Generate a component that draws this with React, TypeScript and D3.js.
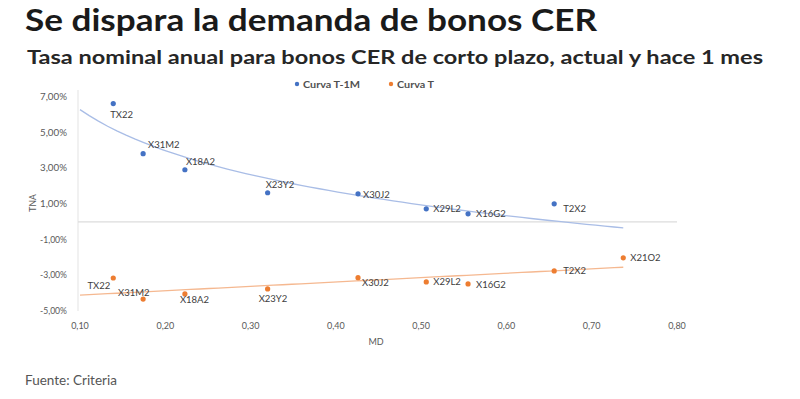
import { line, mean, scaleLinear, sum } from "d3";
import { FC } from "react";

// Bonos CER: duration modificada (MD) y TNA (%)
const bonds = ["TX22", "X31M2", "X18A2", "X23Y2", "X30J2", "X29L2", "X16G2", "T2X2"];
const mdPrev = [0.139, 0.174, 0.223, 0.32, 0.426, 0.506, 0.555, 0.656];
const tnaPrev = [6.63, 3.82, 2.92, 1.63, 1.57, 0.73, 0.45, 1.01];

const bondsNow = ["TX22", "X31M2", "X18A2", "X23Y2", "X30J2", "X29L2", "X16G2", "T2X2", "X21O2"];
const mdNow = [0.139, 0.174, 0.223, 0.32, 0.426, 0.506, 0.555, 0.656, 0.737];
const tnaNow = [-3.15, -4.33, -4.04, -3.76, -3.13, -3.37, -3.48, -2.75, -2.02];

const xTicks = [0.1, 0.2, 0.3, 0.4, 0.5, 0.6, 0.7, 0.8];
const yTicks = [7, 5, 3, 1, -1, -3, -5];
const trendRange = [0.1, 0.737];

// label placement (dx, dy, anchor)
const prevLabelPos: Record<string, [number, number, string]> = {
  TX22: [-3, 14, "start"],
  X31M2: [5, -6, "start"],
  X18A2: [1, -5, "start"],
  X23Y2: [-2, -5, "start"],
  X30J2: [5, 4, "start"],
  X29L2: [7, 3, "start"],
  X16G2: [8, 3, "start"],
  T2X2: [9, 8, "start"],
};
const nowLabelPos: Record<string, [number, number, string]> = {
  TX22: [-3, 11, "end"],
  X31M2: [-25, -3, "start"],
  X18A2: [-5, 9, "start"],
  X23Y2: [-9, 13, "start"],
  X30J2: [4, 8, "start"],
  X29L2: [7, 3, "start"],
  X16G2: [8, 4, "start"],
  T2X2: [9, 3, "start"],
  X21O2: [7, 3, "start"],
};

const BLUE = "#4472c4";
const ORANGE = "#ed7d31";
const FONT = "Lato, 'Open Sans', sans-serif";

// least squares fit of y = a + b*f(x)
const fit = (xs: number[], ys: number[], f: (v: number) => number) => {
  const fx = xs.map(f);
  const mx = mean(fx)!;
  const my = mean(ys)!;
  const b = sum(fx, (v, i) => (v - mx) * (ys[i] - my)) / sum(fx, (v) => (v - mx) ** 2);
  const a = my - b * mx;
  return (v: number) => a + b * f(v);
};

const App: FC = () => {
  const width = 800;
  const height = 399;

  const x = scaleLinear().domain([0.1, 0.8]).range([80, 677]);
  const y = scaleLinear().domain([-5, 7]).range([311, 97]);

  const logFit = fit(mdPrev, tnaPrev, Math.log);
  const linFit = fit(mdNow, tnaNow, (v) => v);

  const samples = Array.from({ length: 60 }, (_, i) => trendRange[0] + ((trendRange[1] - trendRange[0]) * i) / 59);
  const path = (fn: (v: number) => number) =>
    line<number>()
      .x((d) => x(d))
      .y((d) => y(fn(d)))(samples) || "";

  const fmtPct = (v: number) => v.toFixed(2).replace(".", ",") + "%";
  const fmtX = (v: number) => v.toFixed(2).replace(".", ",");

  return (
    <svg width={width} height={height} style={{ position: "absolute", left: 0, top: 0, background: "#fff" }}>
      <text x={25} y={31} fontFamily={FONT} fontWeight={700} fontSize={30} fill="#1a1a1a"
        textLength={572} lengthAdjust="spacingAndGlyphs">
        Se dispara la demanda de bonos CER
      </text>
      <text x={27} y={64} fontFamily={FONT} fontWeight={700} fontSize={19.5} fill="#262626"
        textLength={736} lengthAdjust="spacingAndGlyphs">
        Tasa nominal anual para bonos CER de corto plazo, actual y hace 1 mes
      </text>

      {/* legend */}
      <circle cx={297} cy={84} r={2.2} fill={BLUE} />
      <text x={303} y={87.5} fontFamily={FONT} fontSize={9.5} fontWeight={700} fill="#505050" textLength={57} lengthAdjust="spacingAndGlyphs">Curva T-1M</text>
      <circle cx={391} cy={84} r={2.2} fill={ORANGE} />
      <text x={397} y={87.5} fontFamily={FONT} fontSize={9.5} fontWeight={700} fill="#505050" textLength={37} lengthAdjust="spacingAndGlyphs">Curva T</text>

      {/* axes */}
      <line x1={x(0.1) - 2} x2={x(0.1) - 2} y1={90} y2={y(-5)} stroke="#e3e3e3" strokeWidth={1} />
      <line x1={x(0.1) - 2} x2={x(0.8)} y1={y(0)} y2={y(0)} stroke="#dcdcdc" strokeWidth={1.2} />
      {yTicks.map((t) => (
        <text key={t} x={67} y={y(t) + 3} textAnchor="end" fontFamily={FONT} fontSize={9} fill="#595959"
          textLength={27} lengthAdjust="spacingAndGlyphs">
          {fmtPct(t)}
        </text>
      ))}
      {xTicks.map((t) => (
        <text key={t} x={x(t)} y={329} textAnchor="middle" fontFamily={FONT} fontSize={9} fill="#595959">
          {fmtX(t)}
        </text>
      ))}
      <text x={376} y={345} textAnchor="middle" fontFamily={FONT} fontSize={9} fill="#595959">MD</text>
      <text transform="translate(36,203) rotate(-90)" textAnchor="middle" fontFamily={FONT} fontSize={8.5} fill="#595959">
        TNA
      </text>

      {/* trendlines */}
      <path d={path(logFit)} fill="none" stroke="#a9bde6" strokeWidth={1.3} />
      <path d={path(linFit)} fill="none" stroke="#f5b890" strokeWidth={1.3} />

      {/* points */}
      {bonds.map((b, i) => {
        const [dx, dy, anchor] = prevLabelPos[b];
        return (
          <g key={"p" + b}>
            <circle cx={x(mdPrev[i])} cy={y(tnaPrev[i])} r={2.6} fill={BLUE} />
            <text x={x(mdPrev[i]) + dx} y={y(tnaPrev[i]) + dy} textAnchor={anchor} fontFamily={FONT} fontSize={9.5} fill="#404040">
              {b}
            </text>
          </g>
        );
      })}
      {bondsNow.map((b, i) => {
        const [dx, dy, anchor] = nowLabelPos[b];
        return (
          <g key={"n" + b}>
            <circle cx={x(mdNow[i])} cy={y(tnaNow[i])} r={2.6} fill={ORANGE} />
            <text x={x(mdNow[i]) + dx} y={y(tnaNow[i]) + dy} textAnchor={anchor} fontFamily={FONT} fontSize={9.5} fill="#404040">
              {b}
            </text>
          </g>
        );
      })}

      <text x={25} y={385} fontFamily={FONT} fontSize={13.5} fill="#555">Fuente: Criteria</text>
    </svg>
  );
};

export default App;
